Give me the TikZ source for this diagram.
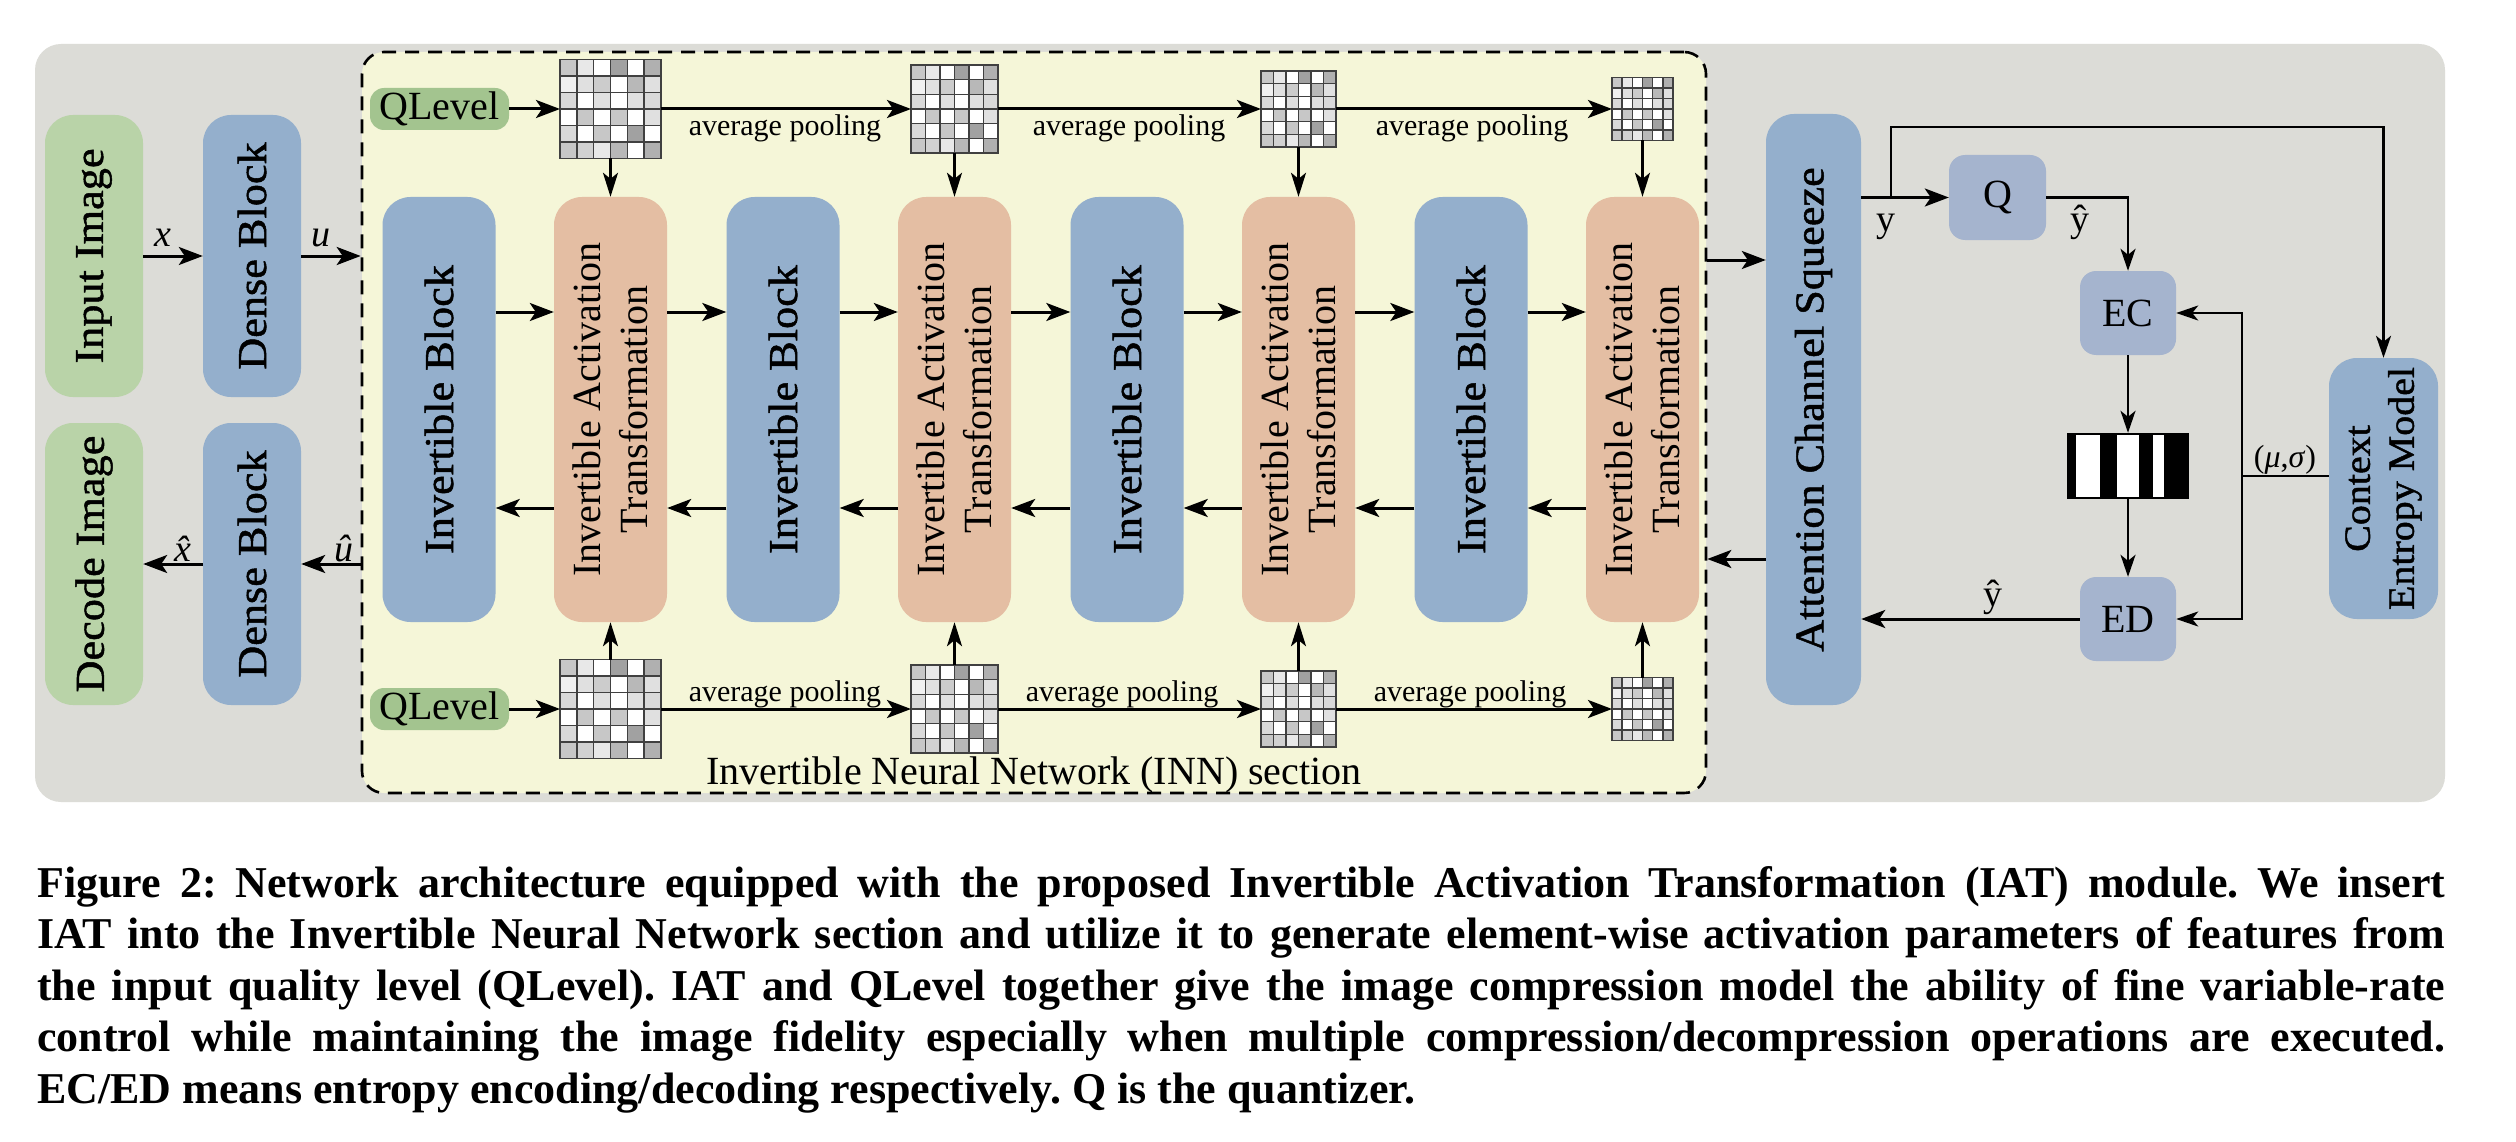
\documentclass[tikz,border=0pt]{standalone}
\usepackage{fontspec}
\setmainfont{Liberation Serif}
\newfontfamily\widefont[FakeStretch=1.08,FakeBold=1.2]{Liberation Serif}
\usetikzlibrary{arrows.meta,calc}
\frenchspacing
\definecolor{bggray}{RGB}{220,220,215}
\definecolor{innyellow}{RGB}{245,246,216}
\definecolor{ingreen}{RGB}{185,211,168}
\definecolor{qgreen}{RGB}{163,196,143}
\definecolor{blkblue}{RGB}{148,175,204}
\definecolor{iatorange}{RGB}{228,190,163}
\definecolor{qblue}{RGB}{165,180,206}
\newcommand\lab{\fontsize{40}{47}\selectfont}
\newcommand\wlab{\widefont\fontsize{41}{48}\selectfont}
\newcommand\cemlab{\widefont\fontsize{37}{44}\selectfont}
\newcommand\poolfont{\fontsize{30}{36}\selectfont}
\newcommand\varfont{\fontsize{38}{44}\selectfont}
\newcommand\musig{\fontsize{32}{38}\selectfont}
\newcommand\capfont{\fontsize{44}{51.5}\selectfont\bfseries\frenchspacing}
\newcommand\fmap[5]{%
  \begin{scope}[shift={(#2-#4/2,#3-#5/2)}, x={(#4pt/6,0pt)}, y={(0pt,-#5pt/6)}]
    \foreach \rowv [count=\r from 0] in {{22,9,0,37,0,31},{6,12,20,0,28,12},{15,0,12,0,12,15},{0,22,0,22,0,12},{15,0,22,0,37,0},{22,18,9,28,0,31}}{
      \foreach \v [count=\c from 0] in \rowv { \fill[black!\v] (\c,\r) rectangle (\c+1,\r+1); }
    }
    \foreach \i in {1,...,5}{
      \draw[line width=1.6pt, black!75] (\i,0) -- (\i,6);
      \draw[line width=1.6pt, black!75] (0,\i) -- (6,\i);
    }
  \end{scope}
  \node[draw=black!75, line width=1.8pt, minimum width=#4pt, minimum height=#5pt, inner sep=0, outer sep=0] (#1) at (#2,#3) {};
}
\tikzset{
  greenbox/.style={fill=ingreen, rounded corners=28pt, inner sep=0},
  bluebox/.style={fill=blkblue, rounded corners=28pt, inner sep=0},
  iatbox/.style={fill=iatorange, rounded corners=28pt, inner sep=0},
  smallbox/.style={fill=qblue, rounded corners=16pt, inner sep=0, minimum width=96pt, minimum height=84pt, font=\lab},
  qlev/.style={fill=qgreen, rounded corners=14pt, minimum width=139pt, minimum height=42pt, inner sep=0, font=\lab},
  vtext/.style={rotate=90, inner sep=0},
  arr/.style={line width=3pt, -{Stealth[length=24pt,width=18pt,inset=6pt]}},
  garr/.style={line width=2.6pt, -{Stealth[length=24pt,width=15pt,inset=6pt]}},
  tarr/.style={line width=2.4pt, -{Stealth[length=22pt,width=15pt,inset=6pt]}},
  lbl/.style={anchor=base, inner sep=0},
}
\begin{document}
\begin{tikzpicture}[x=1pt,y=-1pt]
\useasboundingbox (0,0) rectangle (2516,1142);
\fill[white] (0,0) rectangle (2516,1142);
\node[fill=bggray, rounded corners=26pt, minimum width=2410pt, minimum height=758pt, inner sep=0] (bg) at (1240,423) {};
\node[fill=innyellow, draw=black, dash pattern=on 14pt off 9pt, line width=2.6pt, rounded corners=22pt, minimum width=1344pt, minimum height=741pt, inner sep=0] (inn) at (1034,422.5) {};

% left part
\node[greenbox, minimum width=98pt, minimum height=282pt] (inimg) at (94,256) {};
\node[vtext, font=\wlab] (inimgt) at (inimg) {Input Image};
\node[bluebox, minimum width=98pt, minimum height=282pt] (dense1) at (252,256) {};
\node[vtext, font=\wlab] (dense1t) at (dense1) {Dense Block};
\node[greenbox, minimum width=98pt, minimum height=282pt] (decimg) at (94,564) {};
\node[vtext, font=\wlab] (decimgt) at (decimg) {Decode Image};
\node[bluebox, minimum width=98pt, minimum height=282pt] (dense2) at (252,564) {};
\node[vtext, font=\wlab] (dense2t) at (dense2) {Dense Block};

\draw[arr] (inimg.east) -- (dense1.west);
\draw[arr] (dense1.east) -- (inn.west |- dense1.east);
\draw[arr] (inn.west |- dense2.east) -- (dense2.east);
\draw[arr] (dense2.west) -- (decimg.east);
\node[lbl, font=\varfont\itshape] (xl) at (163,246) {x};
\node[lbl, font=\varfont\itshape] (ul) at (321,246) {u};
\node[lbl, font=\varfont\itshape] (xhl) at (183,561) {x̂};
\node[lbl, font=\varfont\itshape] (uhl) at (344,561) {û};

% INN section blocks
\foreach \i/\xb/\xa in {1/439/610.5, 2/783/954.5, 3/1127/1298.5, 4/1471/1642.5}{
  \node[bluebox, minimum width=113pt, minimum height=425pt] (ib\i) at (\xb,409.5) {};
  \node[vtext, font=\wlab] (ib\i t) at (ib\i) {Invertible Block};
  \node[iatbox, minimum width=113pt, minimum height=425pt] (iat\i) at (\xa,409.5) {};
  \node[vtext, font=\lab, align=center] (iat\i t) at (iat\i) {Invertible Activation\\Transformation};
}
\foreach \i in {1,2,3,4}{
  \draw[arr] ([yshift=97.5pt]ib\i.east) -- ([yshift=97.5pt]iat\i.west);
  \draw[arr] ([yshift=-98.5pt]iat\i.west) -- ([yshift=-98.5pt]ib\i.east);
}
\foreach \i/\j in {1/2,2/3,3/4}{
  \draw[arr] ([yshift=97.5pt]iat\i.east) -- ([yshift=97.5pt]ib\j.west);
  \draw[arr] ([yshift=-98.5pt]ib\j.west) -- ([yshift=-98.5pt]iat\i.east);
}

% QLevel and feature maps
\node[qlev] (ql1) at (439.5,109) {QLevel};
\node[qlev] (ql2) at (439.5,709) {QLevel};
\fmap{g1}{610.5}{109}{101}{99}
\fmap{g2}{954.5}{109}{87}{88}
\fmap{g3}{1298.5}{109}{75}{76}
\fmap{g4}{1642.5}{109}{61}{63}
\fmap{h1}{610.5}{709}{101}{99}
\fmap{h2}{954.5}{709}{87}{88}
\fmap{h3}{1298.5}{709}{75}{76}
\fmap{h4}{1642.5}{709}{61}{63}
\draw[arr] (ql1.east) -- (g1.west);
\draw[arr] (g1.east) -- (g2.west);
\draw[arr] (g2.east) -- (g3.west);
\draw[arr] (g3.east) -- (g4.west);
\draw[arr] (ql2.east) -- (h1.west);
\draw[arr] (h1.east) -- (h2.west);
\draw[arr] (h2.east) -- (h3.west);
\draw[arr] (h3.east) -- (h4.west);
\foreach \i in {1,2,3,4}{
  \draw[garr] (g\i.south) -- (iat\i.north);
  \draw[garr] (h\i.north) -- (iat\i.south);
}
\node[lbl, font=\poolfont] (p1) at (785,136) {average pooling};
\node[lbl, font=\poolfont] (p2) at (1129,136) {average pooling};
\node[lbl, font=\poolfont] (p3) at (1472,136) {average pooling};
\node[lbl, font=\poolfont] (p4) at (785,701) {average pooling};
\node[lbl, font=\poolfont] (p5) at (1122,701) {average pooling};
\node[lbl, font=\poolfont] (p6) at (1470,701) {average pooling};
\node[lbl, font=\lab] (innl) at (1034,784) {Invertible Neural Network (INN) section};

% right part
\node[bluebox, minimum width=95pt, minimum height=591pt] (acs) at (1813.5,409.5) {};
\node[vtext, font=\wlab] (acst) at (acs) {Attention Channel Squeeze};
\path ([yshift=149.5pt]acs.west) coordinate (acsin);
\path ([yshift=-149.5pt]acs.west) coordinate (acsout);
\draw[arr] (inn.east |- acsin) -- (acsin);
\draw[arr] (acsout) -- (inn.east |- acsout);

\node[smallbox, minimum width=97pt, minimum height=85pt] (q) at (1997.5,197.5) {Q};
\node[smallbox] (ec) at (2128,313) {EC};
\node[smallbox] (ed) at (2128,619) {ED};
\node[fill=black, minimum width=122pt, minimum height=66pt, inner sep=0] (bar) at (2128,466) {};
\fill[white] (2076,435) rectangle (2100,497);
\fill[white] (2117,435) rectangle (2139,497);
\fill[white] (2153,435) rectangle (2164,497);
\node[bluebox, minimum width=109pt, minimum height=261pt] (cem) at (2383.5,488.5) {};
\node[vtext, font=\cemlab, align=center] (cemt) at (cem) {Context\\Entropy Model};

\coordinate (ysplit) at (1891,197.5);
\coordinate (ytop) at (1891,127);
\coordinate (ms) at (2242,476);
\draw[arr] (acs.east |- q.west) -- (q.west);
\draw[tarr] (ysplit) -- (ytop) -| (cem.north);
\draw[tarr] (q.east) -| (ec.north);
\draw[tarr] (ec.south) -- (bar.north);
\draw[tarr] (bar.south) -- (ed.north);
\draw[line width=2.4pt] (cem.west |- ms) -- (ms);
\draw[tarr] (ms) |- (ec.east);
\draw[tarr] (ms) |- (ed.east);
\draw[arr] (ed.west) -- (acs.east |- ed.west);
\node[lbl, font=\varfont] (yl) at (1886,232) {y};
\node[lbl, font=\varfont] (yhl1) at (2080,232) {ŷ};
\node[lbl, font=\varfont] (yhl2) at (1993,606) {ŷ};
\node[lbl, font=\musig] (msl) at (2285,467) {(\textit{μ},\textit{σ})};

% caption
\node[anchor=north west, inner sep=0, font=\capfont, align=left] (cap) at (37,866) {%
\makebox[2408pt][s]{Figure 2: Network architecture equipped with the proposed Invertible Activation Transformation (IAT) module. We insert}\\
\makebox[2408pt][s]{IAT into the Invertible Neural Network section and utilize it to generate element-wise activation parameters of features from}\\
\makebox[2408pt][s]{the input quality level (QLevel). IAT and QLevel together give the image compression model the ability of fine variable-rate}\\
\makebox[2408pt][s]{control while maintaining the image fidelity especially when multiple compression/decompression operations are executed.}\\
EC/ED means entropy encoding/decoding respectively. Q is the quantizer.};
\end{tikzpicture}
\end{document}
